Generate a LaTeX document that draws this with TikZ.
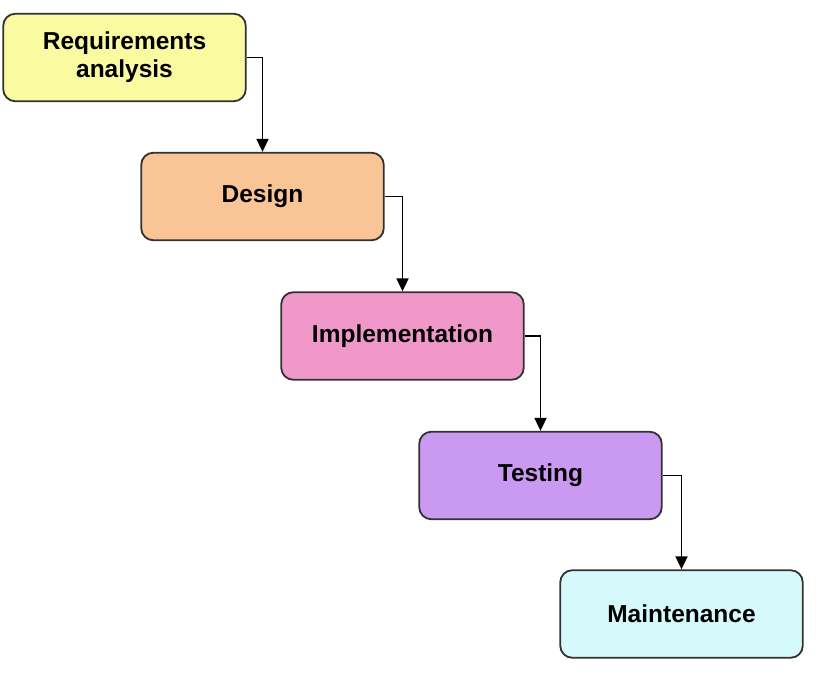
\documentclass[tikz,border=0pt]{standalone}
\usepackage{fontspec}
\setmainfont{Liberation Sans}
\usetikzlibrary{arrows.meta}
\definecolor{cyel}{RGB}{250,250,160}
\definecolor{cpea}{RGB}{249,196,150}
\definecolor{cpin}{RGB}{240,152,202}
\definecolor{cpur}{RGB}{202,154,242}
\definecolor{ccya}{RGB}{214,250,252}
\definecolor{cbord}{RGB}{50,50,50}
\begin{document}
\begin{tikzpicture}[x=1pt,y=-1pt,
  phase/.style={draw=cbord, line width=1.8pt, rounded corners=12pt,
    minimum width=242.5pt, minimum height=87.5pt, inner sep=0pt,
    align=center, font=\fontsize{24.5}{28}\selectfont\bfseries, text=black},
  flow/.style={draw=black, line width=1.8pt, -{Triangle[length=13pt,width=12pt]}}]
\useasboundingbox (0,0) rectangle (827,687);
\node[phase, fill=cyel] (req) at (124.5,57.5) {Requirements\\analysis};
\node[phase, fill=cpea] (des) at (262.5,196.5) {Design};
\node[phase, fill=cpin] (imp) at (402.5,336) {Implementation};
\node[phase, fill=cpur] (tes) at (540.5,475.5) {Testing};
\node[phase, fill=ccya] (mai) at (681.5,614) {Maintenance};
\draw[flow] (req.east) -| (des.north);
\draw[flow] (des.east) -| (imp.north);
\draw[flow] (imp.east) -| (tes.north);
\draw[flow] (tes.east) -| (mai.north);
\end{tikzpicture}
\end{document}
